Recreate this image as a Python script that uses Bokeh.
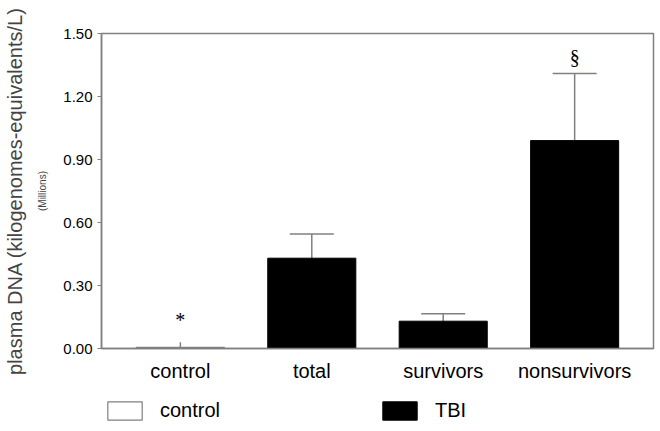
from bokeh.plotting import figure
from bokeh.layouts import column
from bokeh.models import (ColumnDataSource, Range1d, FactorRange, FixedTicker, LinearAxis,
                          Whisker, TeeHead, Legend, LegendItem, NumeralTickFormatter)
from bokeh.embed import file_html
from bokeh.resources import INLINE

categories = ["control", "total", "survivors", "nonsurvivors"]
groups = ["control", "TBI", "TBI", "TBI"]
means = [0.005, 0.43, 0.13, 0.99]
upper_err = [0.03, 0.545, 0.165, 1.31]
marks = ["*", "", "", "§"]
y_ticks = [0.0, 0.3, 0.6, 0.9, 1.2, 1.5]
legend_groups = ["control", "TBI"]

FONT = "Liberation Sans"
GRAY = "#808080"
STYLE = {"control": dict(fill_color="white", line_color=GRAY, line_width=1.2),
         "TBI": dict(fill_color="black", line_color="black", line_width=1)}

p = figure(width=655, height=385, output_backend="svg", toolbar_location=None,
           x_range=FactorRange(*categories, range_padding=0.05),
           y_range=Range1d(0, 1.5),
           min_border_left=100, min_border_right=2, min_border_top=33, min_border_bottom=37)
p.grid.visible = False
p.outline_line_color = GRAY
p.outline_line_width = 1.5
p.background_fill_color = "white"
p.border_fill_color = "white"

src = ColumnDataSource(dict(x=categories, top=means, upper=upper_err, group=groups, mark=marks,
                            dy=[-11 if m == "*" else -5 for m in marks]))

def sub(idx):
    return ColumnDataSource({k: [v[i] for i in idx] for k, v in src.data.items()})

subsets = {g: sub([i for i, gg in enumerate(groups) if gg == g]) for g in legend_groups}

for g in legend_groups:
    p.vbar(x="x", top="top", width=0.67, source=subsets[g], **STYLE[g])

p.add_layout(Whisker(base="x", lower="top", upper="upper", source=subsets["TBI"], dimension="height",
                     line_color=GRAY, line_width=1.5,
                     upper_head=TeeHead(size=44, line_color=GRAY, line_width=1.5),
                     lower_head=None))
p.add_layout(Whisker(base="x", lower="top", upper="upper", source=subsets["control"],
                     dimension="height", line_color=GRAY, line_width=1.5,
                     upper_head=None, lower_head=None))

p.text(x="x", y="upper", text="mark", source=src, y_offset="dy", text_align="center",
       text_baseline="bottom", text_font=FONT, text_font_size="20px", text_color="black")

# inner y axis with "(Millions)"
ya = p.yaxis[0]
ya.ticker = FixedTicker(ticks=y_ticks)
ya.formatter = NumeralTickFormatter(format="0.00")
ya.axis_label = "(Millions)"
ya.axis_label_text_font = FONT
ya.axis_label_text_font_size = "10px"
ya.axis_label_text_font_style = "normal"
ya.axis_label_standoff = 12
ya.major_label_text_font = FONT
ya.major_label_text_font_size = "15px"
ya.major_label_text_color = "black"
ya.major_label_standoff = 5
ya.major_tick_out = 4
ya.major_tick_in = 0
ya.minor_tick_line_color = None
ya.axis_line_color = GRAY
ya.major_tick_line_color = GRAY
ya.axis_line_width = 1.5

# outer y axis carrying the main label
ya2 = LinearAxis(ticker=FixedTicker(ticks=[]), axis_label="plasma DNA (kilogenomes-equivalents/L)",
                 axis_label_text_font=FONT, axis_label_text_font_size="20px",
                 axis_label_text_font_style="normal", axis_label_standoff=9,
                 axis_line_color=None, major_tick_line_color=None, minor_tick_line_color=None,
                 major_tick_out=0, major_tick_in=0, major_label_standoff=0,
                 major_label_text_font_size="0px")
p.add_layout(ya2, "left")

xa = p.xaxis[0]
xa.major_tick_line_color = None
xa.major_tick_out = 0
xa.major_tick_in = 0
xa.major_label_standoff = 11
xa.major_label_text_font = FONT
xa.major_label_text_font_size = "20px"
xa.major_label_text_color = "black"
xa.axis_line_color = GRAY
xa.axis_line_width = 1.5

# legend strip below the chart (swatch renderers have no drawable point)
pl = figure(width=655, height=40, output_backend="svg", toolbar_location=None,
            x_range=Range1d(0, 1), y_range=Range1d(0, 1),
            x_axis_location=None, y_axis_location=None,
            min_border_left=0, min_border_right=0, min_border_top=0, min_border_bottom=0)
pl.grid.visible = False
pl.outline_line_color = None
pl.border_fill_color = "white"
pl.background_fill_color = "white"
items = []
for g in legend_groups:
    r = pl.vbar(x=[float("nan")], top=[float("nan")], width=0.1, **STYLE[g])
    items.append(LegendItem(label=g, renderers=[r]))
legend = Legend(items=items, location=(2, 3), orientation="horizontal",
                glyph_width=43, glyph_height=23, label_standoff=14, label_width=218,
                spacing=0, padding=0, margin=0,
                border_line_color=None, background_fill_alpha=0,
                label_text_font=FONT, label_text_font_size="20px", label_text_color="black")
pl.add_layout(legend)

layout = column(p, pl, spacing=0)
open("out.html", "w").write(file_html(layout, INLINE))
